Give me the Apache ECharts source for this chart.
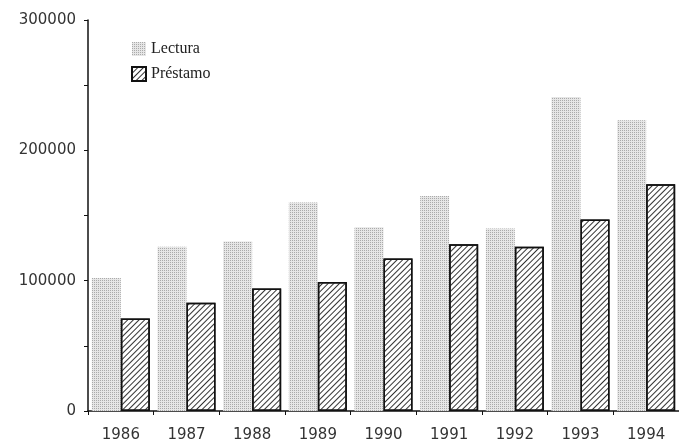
<!DOCTYPE html>
<html>
<head>
<meta charset="utf-8">
<script src="https://cdn.jsdelivr.net/npm/echarts@6/dist/echarts.min.js"></script>
<style>
html,body{margin:0;padding:0;background:#fff;}
#chart{width:679px;height:447px;}
</style>
</head>
<body>
<div id="chart"></div>
<script>
// años y valores
var years = ['1986', '1987', '1988', '1989', '1990', '1991', '1992', '1993', '1994'];
var lectura = [102000, 126000, 130000, 160000, 141000, 165000, 140000, 241000, 223000];
var prestamo = [71000, 83000, 94000, 99000, 117000, 128000, 126000, 147000, 174000];
var yTicks = [0, 100000, 200000, 300000];

var chart = echarts.init(document.getElementById('chart'));
chart.setOption({
  animation: false,
  backgroundColor: '#fff',
  legend: {
    orient: 'vertical',
    left: 126,
    top: 36,
    icon: 'rect',
    itemWidth: 14,
    itemHeight: 14,
    itemGap: 9,
    textStyle: {fontFamily: 'Liberation Serif', fontSize: 16, color: '#222'},
    data: ['Lectura', 'Préstamo']
  },
  grid: {left: 88, top: 20, width: 594, height: 391},
  xAxis: {
    type: 'category',
    data: years,
    axisLine: {lineStyle: {color: '#111', width: 1.5}},
    axisTick: {show: true, length: 4, lineStyle: {color: '#111'}},
    axisLabel: {fontFamily: 'DejaVu Sans', fontSize: 15, color: '#333', margin: 17}
  },
  yAxis: {
    type: 'value',
    min: 0,
    max: 300000,
    interval: 50000,
    splitLine: {show: false},
    axisLine: {show: true, lineStyle: {color: '#111', width: 1.5}},
    axisTick: {show: true, length: 4, lineStyle: {color: '#111'}},
    axisLabel: {
      fontFamily: 'DejaVu Sans', fontSize: 15, color: '#333', margin: 12,
      formatter: function (v) { return yTicks.indexOf(v) >= 0 ? String(v) : ''; }
    }
  },
  series: [
    {
      name: 'Lectura',
      type: 'bar',
      data: lectura,
      barWidth: 29,
      barGap: '0%',
      itemStyle: {
        color: '#e6e6e6',
        decal: {
          symbol: 'rect',
          symbolSize: 1,
          color: 'rgba(110,110,110,0.5)',
          dashArrayX: [1, 1],
          dashArrayY: [1, 1]
        }
      }
    },
    {
      name: 'Préstamo',
      type: 'bar',
      data: prestamo,
      barWidth: 29,
      barGap: '0%',
      itemStyle: {
        color: '#fff',
        borderColor: '#111',
        borderWidth: 1.5,
        decal: {
          symbol: 'rect',
          symbolSize: 1,
          color: '#333',
          dashArrayX: [1, 0],
          dashArrayY: [1, 3],
          rotation: -Math.PI / 4
        }
      }
    }
  ]
});
</script>
</body>
</html>
